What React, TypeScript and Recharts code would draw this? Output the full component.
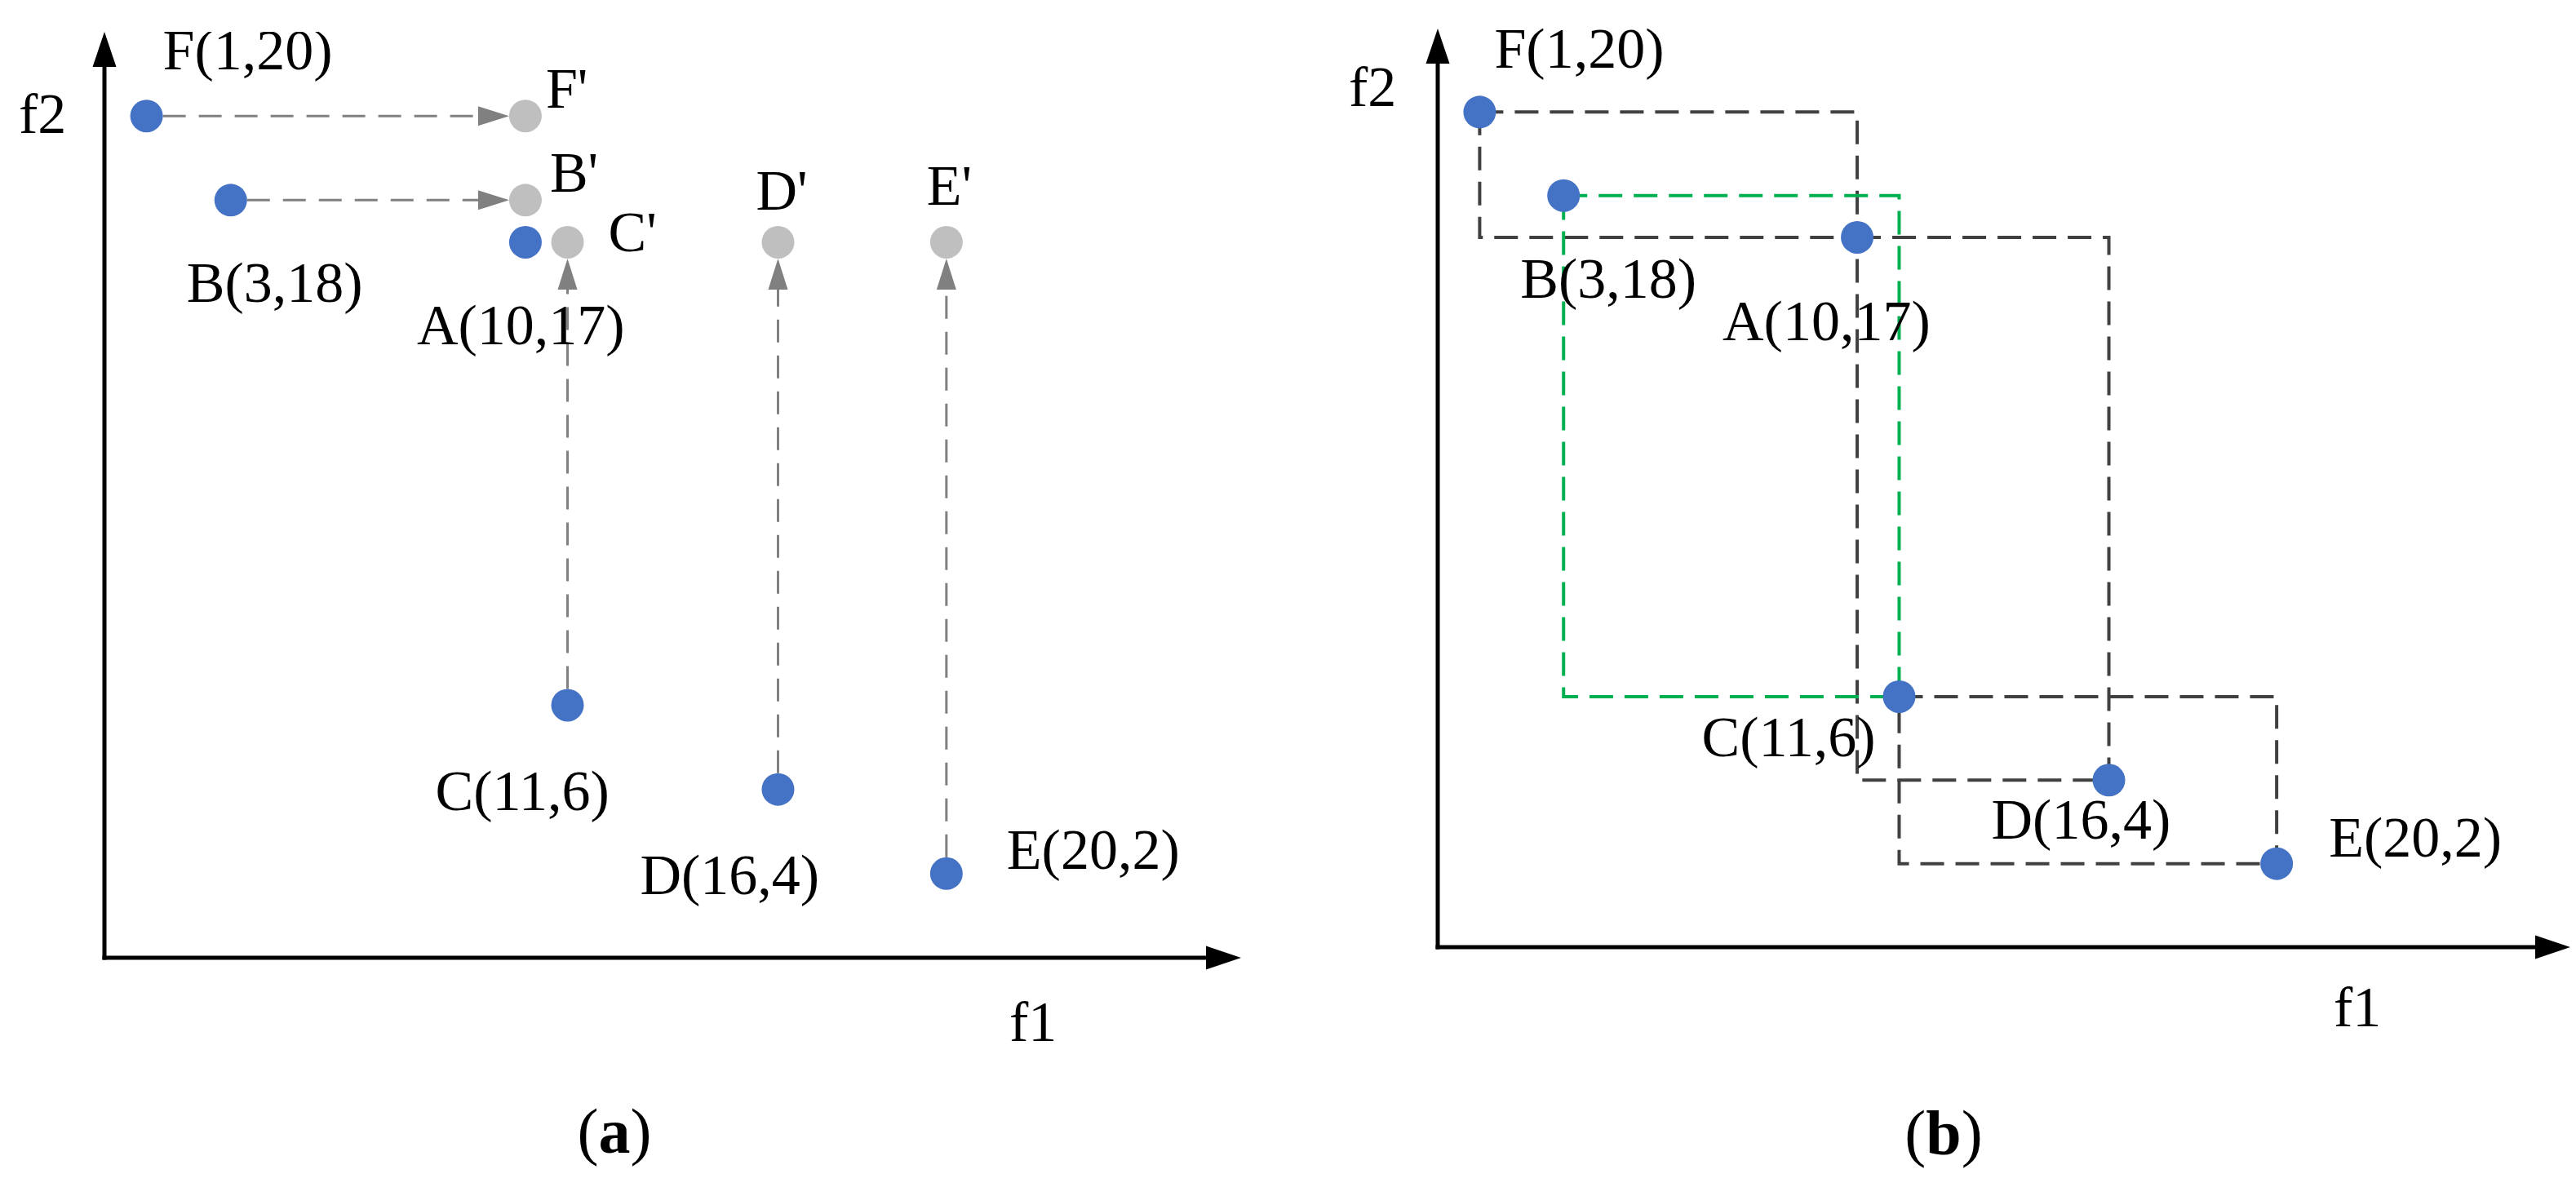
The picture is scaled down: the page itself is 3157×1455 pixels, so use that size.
import React from 'react';
import { ScatterChart, Scatter, XAxis, YAxis, ReferenceLine, ReferenceArea } from 'recharts';

// solutions of the front, (f1, f2)
const POINT_NAMES = ['F', 'B', 'A', 'C', 'D', 'E'];
const POINT_F1 = [1, 3, 10, 11, 16, 20];
const POINT_F2 = [20, 18, 17, 6, 4, 2];

// (a) shifted copies and where they come from
const MOVED_NAMES = ["F'", "B'", "C'", "D'", "E'"];
const MOVED_FROM = ['F', 'B', 'C', 'D', 'E'];
const MOVED_F1 = [10, 10, 11, 16, 20];
const MOVED_F2 = [20, 18, 17, 17, 17];

// (b) boxes spanned between two solutions
const BOX_FROM = ['F', 'A', 'C'];
const BOX_TO = ['A', 'D', 'E'];
const GREEN_BOX = ['B', 'C'];

const F1_MAX = 27;
const F2_MAX = 22;

const FONT = '"Liberation Serif", "Times New Roman", serif';
const BLUE = '#4472c4';
const LIGHT = '#bfbfbf';
const ARROW_GRAY = '#808080';
const BOX_GRAY = '#404040';
const GREEN = '#00b050';
const DOT_R = 20;

const points = POINT_NAMES.map((name, i) => ({
    name,
    f1: POINT_F1[i],
    f2: POINT_F2[i],
    label: `${name}(${POINT_F1[i]},${POINT_F2[i]})`,
}));
const moved = MOVED_NAMES.map((name, i) => ({ name, f1: MOVED_F1[i], f2: MOVED_F2[i], label: name }));
const byName = (n: string) => points.find(p => p.name === n)!;

// label offsets from the dot centre (text start, baseline)
const LABEL_A: Record<string, number[]> = {
    F: [20, -57], B: [-54, 125], A: [-133, 125], C: [-162, 129], D: [-169, 128], E: [74, -6],
    "F'": [25, -10], "B'": [30, -10], "C'": [50, 11], "D'": [-27, -40], "E'": [-24, -46],
};
const LABEL_B: Record<string, number[]> = {
    F: [18, -54], B: [-53, 125], A: [-165, 126], C: [-242, 73], D: [-144, 72], E: [64, -9],
};

const dotShape = (fill: string, offsets: Record<string, number[]>) => (props: any) => {
    const { cx, cy, payload } = props;
    const [dx, dy] = offsets[payload.name] ?? [0, 0];
    return (
        <g>
            <circle cx={cx} cy={cy} r={DOT_R} fill={fill} />
            <text x={cx + dx} y={cy + dy} fontFamily={FONT} fontSize={70} fill="#000">
                {payload.label}
            </text>
        </g>
    );
};

interface ArrowOpts {
    color: string;
    width: number;
    dash?: string;
    head: number;
    headWidth: number;
    startGap: number;
    endGap: number;
    cap?: 'butt' | 'square';
}

const arrowShape = (o: ArrowOpts) => (props: any) => {
    const { x1, y1, x2, y2 } = props;
    const len = Math.hypot(x2 - x1, y2 - y1) || 1;
    const ux = (x2 - x1) / len;
    const uy = (y2 - y1) / len;
    const tipX = x2 - ux * o.endGap;
    const tipY = y2 - uy * o.endGap;
    const baseX = tipX - ux * o.head;
    const baseY = tipY - uy * o.head;
    const px = -uy * o.headWidth / 2;
    const py = ux * o.headWidth / 2;
    return (
        <g>
            <line
                x1={x1 + ux * o.startGap} y1={y1 + uy * o.startGap}
                x2={baseX + ux * 2} y2={baseY + uy * 2}
                stroke={o.color} strokeWidth={o.width}
                strokeDasharray={o.dash} strokeLinecap={o.cap ?? 'butt'}
            />
            <polygon
                points={`${tipX},${tipY} ${baseX + px},${baseY + py} ${baseX - px},${baseY - py}`}
                fill={o.color}
            />
        </g>
    );
};

const axisArrow = arrowShape({ color: '#000', width: 5, head: 43, headWidth: 29, startGap: 0, endGap: 0, cap: 'square' });
const moveArrow = arrowShape({ color: ARROW_GRAY, width: 3, dash: '28 16', head: 38, headWidth: 24, startGap: DOT_R, endGap: DOT_R });

function Axes() {
    return null;
}

function PanelA() {
    return (
        <ScatterChart width={1580} height={1455} margin={{ top: 39, right: 59, bottom: 281, left: 128 }}>
            <XAxis type="number" dataKey="f1" domain={[0, F1_MAX]} hide allowDataOverflow />
            <YAxis type="number" dataKey="f2" domain={[0, F2_MAX]} hide allowDataOverflow />
            <ReferenceLine segment={[{ x: 0, y: 0 }, { x: F1_MAX, y: 0 }]} shape={axisArrow} />
            <ReferenceLine segment={[{ x: 0, y: 0 }, { x: 0, y: F2_MAX }]} shape={axisArrow} />
            {moved.map((m, i) => {
                const from = byName(MOVED_FROM[i]);
                return (
                    <ReferenceLine
                        key={m.name}
                        segment={[{ x: from.f1, y: from.f2 }, { x: m.f1, y: m.f2 }]}
                        shape={moveArrow}
                    />
                );
            })}
            <Scatter data={moved} shape={dotShape(LIGHT, LABEL_A)} isAnimationActive={false} />
            <Scatter data={points} shape={dotShape(BLUE, LABEL_A)} isAnimationActive={false} />
        </ScatterChart>
    );
}

function PanelB() {
    return (
        <ScatterChart width={1577} height={1455} margin={{ top: 35, right: 7, bottom: 294, left: 182 }}>
            <XAxis type="number" dataKey="f1" domain={[0, F1_MAX]} hide allowDataOverflow />
            <YAxis type="number" dataKey="f2" domain={[0, F2_MAX]} hide allowDataOverflow />
            <ReferenceLine segment={[{ x: 0, y: 0 }, { x: F1_MAX, y: 0 }]} shape={axisArrow} />
            <ReferenceLine segment={[{ x: 0, y: 0 }, { x: 0, y: F2_MAX }]} shape={axisArrow} />
            {BOX_FROM.map((a, i) => {
                const p = byName(a);
                const q = byName(BOX_TO[i]);
                return (
                    <ReferenceArea
                        key={a}
                        x1={p.f1} x2={q.f1} y1={q.f2} y2={p.f2}
                        fill="none" fillOpacity={0}
                        stroke={BOX_GRAY} strokeWidth={4} strokeDasharray="29 14"
                    />
                );
            })}
            <ReferenceArea
                x1={byName(GREEN_BOX[0]).f1} x2={byName(GREEN_BOX[1]).f1}
                y1={byName(GREEN_BOX[1]).f2} y2={byName(GREEN_BOX[0]).f2}
                fill="none" fillOpacity={0}
                stroke={GREEN} strokeWidth={4} strokeDasharray="29 14"
            />
            <Scatter data={points} shape={dotShape(BLUE, LABEL_B)} isAnimationActive={false} />
        </ScatterChart>
    );
}

const textStyle = { fontFamily: FONT, fontSize: 70, fill: '#000' };

export default function App() {
    return (
        <div style={{ position: 'absolute', left: 0, top: 0, width: 3157, height: 1455, background: '#fff', overflow: 'hidden' }}>
            <div style={{ position: 'absolute', left: 0, top: 0 }}>
                <PanelA />
            </div>
            <div style={{ position: 'absolute', left: 1580, top: 0 }}>
                <PanelB />
            </div>
            <svg width={3157} height={1455} style={{ position: 'absolute', left: 0, top: 0, pointerEvents: 'none' }}>
                <text x={23} y={163} {...textStyle}>f2</text>
                <text x={1237} y={1276} {...textStyle}>f1</text>
                <text x={753} y={1413} textAnchor="middle" {...textStyle} fontSize={78}>
                    (<tspan fontWeight="bold">a</tspan>)
                </text>
                <text x={1653} y={130} {...textStyle}>f2</text>
                <text x={2860} y={1258} {...textStyle}>f1</text>
                <text x={2382} y={1415} textAnchor="middle" {...textStyle} fontSize={78}>
                    (<tspan fontWeight="bold">b</tspan>)
                </text>
            </svg>
        </div>
    );
}
